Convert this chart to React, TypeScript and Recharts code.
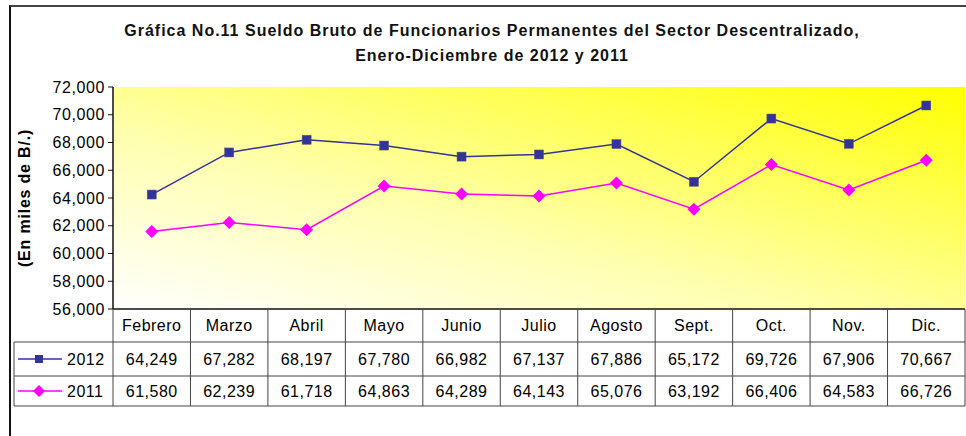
import React from 'react';
import { LineChart, Line, XAxis, YAxis, CartesianGrid } from 'recharts';

const months = ['Febrero', 'Marzo', 'Abril', 'Mayo', 'Junio', 'Julio', 'Agosto', 'Sept.', 'Oct.', 'Nov.', 'Dic.'];
const sueldo2012 = [64249, 67282, 68197, 67780, 66982, 67137, 67886, 65172, 69726, 67906, 70667];
const sueldo2011 = [61580, 62239, 61718, 64863, 64289, 64143, 65076, 63192, 66406, 64583, 66726];
const yTicks = [56000, 58000, 60000, 62000, 64000, 66000, 68000, 70000, 72000];
const seriesNames = ['2012', '2011'];

const data = months.map((mes, i) => ({ mes, y2012: sueldo2012[i], y2011: sueldo2011[i] }));

const FONT = "Arial, 'Liberation Sans', sans-serif";
const PLOT_LEFT = 113;
const PLOT_RIGHT = 965;
const COL_W = (PLOT_RIGHT - PLOT_LEFT) / months.length;
const LEGEND_LEFT = 14;
const ROW_H = [33, 34, 30];
const NAVY = '#333399';
const PINK = '#FF00FF';
const GRID = '#444';

const fmt = (v: number) => v.toLocaleString('en-US');

const Square = (props: any) => {
  const { cx, cy, index } = props;
  if (cx == null || cy == null) return null;
  return <rect key={`sq-${index}`} x={cx - 4.5} y={cy - 4.5} width={9} height={9} fill={NAVY} stroke="#555577" strokeWidth={0.5} />;
};

const Diamond = (props: any) => {
  const { cx, cy, index } = props;
  if (cx == null || cy == null) return null;
  const r = 6.5;
  return <polygon key={`dm-${index}`} points={`${cx},${cy - r} ${cx + r},${cy} ${cx},${cy + r} ${cx - r},${cy}`} fill={PINK} />;
};

const cellText = { fontFamily: FONT, fontSize: 16, letterSpacing: 0.5, fill: '#000' } as const;

// one table column per category tick, plus the legend column at the first one
const TableTick = (props: any) => {
  const { x, y, payload } = props;
  const i = months.indexOf(payload.value);
  const left = x - COL_W / 2;
  const right = x + COL_W / 2;
  const r1 = y + ROW_H[0];
  const r2 = r1 + ROW_H[1];
  const r3 = r2 + ROW_H[2];
  const startX = i === 0 ? LEGEND_LEFT : left;
  return (
    <g>
      <line x1={left} y1={y} x2={left} y2={r3} stroke={GRID} />
      {i === months.length - 1 && <line x1={right} y1={y} x2={right} y2={r3} stroke={GRID} />}
      <line x1={startX} y1={r1} x2={right} y2={r1} stroke={GRID} />
      <line x1={startX} y1={r2} x2={right} y2={r2} stroke={GRID} />
      <line x1={startX} y1={r3} x2={right} y2={r3} stroke={GRID} />
      <text x={x} y={y + 22} textAnchor="middle" {...cellText}>{payload.value}</text>
      <text x={x} y={r1 + 23} textAnchor="middle" {...cellText}>{fmt(sueldo2012[i])}</text>
      <text x={x} y={r2 + 21} textAnchor="middle" {...cellText}>{fmt(sueldo2011[i])}</text>
      {i === 0 && (
        <g>
          <line x1={LEGEND_LEFT} y1={r1} x2={LEGEND_LEFT} y2={r3} stroke={GRID} />
          <line x1={18} y1={r1 + 17} x2={62} y2={r1 + 17} stroke={NAVY} strokeWidth={1.5} />
          <rect x={35} y={r1 + 13} width={8} height={8} fill={NAVY} />
          <text x={67} y={r1 + 23} {...cellText}>{seriesNames[0]}</text>
          <line x1={18} y1={r2 + 15} x2={62} y2={r2 + 15} stroke={PINK} strokeWidth={1.5} />
          <polygon points={`39,${r2 + 9} 45,${r2 + 15} 39,${r2 + 21} 33,${r2 + 15}`} fill={PINK} />
          <text x={67} y={r2 + 21} {...cellText}>{seriesNames[1]}</text>
        </g>
      )}
    </g>
  );
};

const AxisTitle = (props: any) => {
  const { viewBox } = props;
  const cx = viewBox.x + 24;
  const cy = viewBox.y + viewBox.height / 2;
  return (
    <text
      x={cx}
      y={cy}
      transform={`rotate(-90 ${cx} ${cy})`}
      textAnchor="middle"
      dominantBaseline="central"
      fontFamily={FONT}
      fontWeight="bold"
      fontSize={16}
      letterSpacing={0.8}
      fill="#000"
    >
      (En miles de B/.)
    </text>
  );
};

export default function App() {
  return (
    <div style={{ position: 'absolute', left: 0, top: 0, width: 966, height: 436, background: '#fff', overflow: 'hidden' }}>
      <div
        style={{
          position: 'absolute',
          left: 9,
          top: 5,
          width: 957,
          height: 431,
          borderTop: '2px solid #444',
          borderLeft: '2px solid #111',
          boxSizing: 'border-box',
        }}
      />
      <div
        style={{
          position: 'absolute',
          left: 0,
          top: 18,
          width: 984,
          textAlign: 'center',
          fontFamily: FONT,
          fontWeight: 'bold',
          fontSize: 16,
          lineHeight: '25px',
          color: '#111',
          letterSpacing: 1.0,
        }}
      >
        Gráfica No.11 Sueldo Bruto de Funcionarios Permanentes del Sector Descentralizado,
        <br />
        Enero-Diciembre de 2012 y 2011
      </div>
      <div style={{ position: 'absolute', left: 0, top: 0 }}>
        <LineChart width={966} height={436} data={data} margin={{ top: 87, right: 1, left: 0, bottom: 0 }}>
          <defs>
            <linearGradient id="plotBg" x1="0" y1="1" x2="1" y2="0">
              <stop offset="0%" stopColor="#FFFFFF" />
              <stop offset="40%" stopColor="#FFFFB0" />
              <stop offset="100%" stopColor="#FFFF00" />
            </linearGradient>
          </defs>
          <CartesianGrid horizontal={false} vertical={false} fill="url(#plotBg)" />
          <XAxis
            dataKey="mes"
            height={127}
            padding={{ left: COL_W / 2, right: COL_W / 2 }}
            tickSize={0}
            tickMargin={0}
            tickLine={false}
            axisLine={{ stroke: '#111', strokeWidth: 1.5 }}
            interval={0}
            tick={<TableTick />}
          />
          <XAxis
            xAxisId="frameTop"
            dataKey="mes"
            orientation="top"
            height={0}
            tick={false}
            tickLine={false}
            axisLine={{ stroke: '#111', strokeWidth: 1.5 }}
          />
          <YAxis
            width={PLOT_LEFT}
            domain={[56000, 72000]}
            ticks={yTicks}
            interval={0}
            tickSize={5}
            tickMargin={3}
            tickFormatter={fmt}
            axisLine={{ stroke: '#111', strokeWidth: 1.5 }}
            tickLine={{ stroke: '#111' }}
            tick={{ fontFamily: FONT, fontSize: 16, letterSpacing: 0.6, fill: '#000' }}
            label={<AxisTitle />}
          />
          <YAxis
            yAxisId="frameRight"
            orientation="right"
            width={0}
            domain={[0, 1]}
            tick={false}
            tickLine={false}
            axisLine={{ stroke: '#111', strokeWidth: 1.5 }}
          />
          <Line
            dataKey="y2012"
            name={seriesNames[0]}
            stroke={NAVY}
            strokeWidth={1.5}
            dot={Square}
            isAnimationActive={false}
          />
          <Line
            dataKey="y2011"
            name={seriesNames[1]}
            stroke={PINK}
            strokeWidth={1.5}
            dot={Diamond}
            isAnimationActive={false}
          />
        </LineChart>
      </div>
    </div>
  );
}
